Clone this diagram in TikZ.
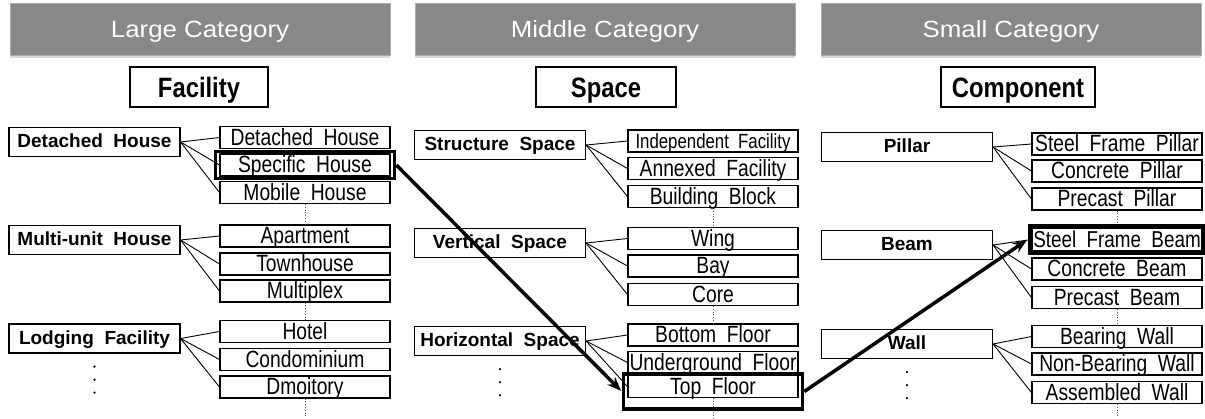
\documentclass[tikz,border=0pt]{standalone}
\usepackage{fontspec}
\setmainfont{Liberation Sans}
\newfontfamily\childfont{Liberation Sans}[FakeStretch=0.82]
\newfontfamily\parentfont{Liberation Sans}[WordSpace=2]
\newfontfamily\titlefont{Liberation Sans}[FakeStretch=0.85]
\newfontfamily\headfont{Liberation Sans}[FakeStretch=1.1]
\usepackage{tikz}
\usetikzlibrary{arrows.meta,fit,shadows}
\definecolor{bargray}{RGB}{136,136,136}
% wide word gaps in the list boxes
\newcommand\childsize[1]{\childfont\fontsize{#1}{#1}\selectfont\spaceskip=.45em plus .1em\relax}
\tikzstyle{header}=[
  fill=bargray,
  draw=bargray!70,
  minimum width=380pt,
  minimum height=52pt,
  text=white,
  text height=17pt,
  text depth=0pt,
  font=\headfont\fontsize{23.5}{24}\selectfont,
  drop shadow={shadow xshift=0pt,shadow yshift=-2.5pt,opacity=.3},
]
\tikzstyle{title}=[
  draw,
  line width=1.3pt,
  minimum height=40pt,
  text height=20pt,
  text depth=0pt,
  font=\titlefont\bfseries\fontsize{28}{28}\selectfont,
]
\tikzset{
  parent/.style={draw,line width=1.2pt,minimum width=171pt,minimum height=29pt,
    inner sep=0pt,text height=14pt,text depth=2.5pt,
    font=\parentfont\bfseries\fontsize{19}{19}\selectfont},
  child/.style={draw,line width=1.1pt,minimum width=170pt,minimum height=22pt,
    inner sep=0pt,text height=18.5pt,text depth=3.5pt,font=\childsize{23.5}},
  hilite/.style={draw,line width=3.5pt,inner sep=2pt},
  jump/.style={->,line width=3.5pt,shorten >=1pt},
  >={Stealth[length=14pt,width=11pt]},
}

\begin{document}
\begin{tikzpicture}[x=1pt,y=-1pt]
  \useasboundingbox (0,0) rectangle (1205,418);

  % column heads
  \node[header] (hlarge) at (200,29) {Large Category};
  \node[header] (hmiddle) at (605,29) {Middle Category};
  \node[header] (hsmall) at (1011,29) {Small Category};
  \node[title,minimum width=138pt] (facility) at (199,87) {Facility};
  \node[title,minimum width=140pt] (space) at (606,87) {Space};
  \node[title,minimum width=154pt] (component) at (1018,87) {Component};

  % facility
  \node[parent] (dh) at (94.5,142) {Detached House};
  \node[parent] (mu) at (94.5,240) {Multi-unit House};
  \node[parent] (lf) at (94.5,338.5) {Lodging Facility};
  \node[child] (dh1) at (305,137.5) {Detached House};
  \node[child] (dh2) at (305,165) {Specific House};
  \node[child] (dh3) at (305,192.5) {Mobile House};
  \node[child] (mu1) at (305,236) {Apartment};
  \node[child] (mu2) at (305,264) {Townhouse};
  \node[child] (mu3) at (305,291) {Multiplex};
  \node[child] (lf1) at (305,331.5) {Hotel};
  \node[child] (lf2) at (305,359.5) {Condominium};
  \node[child] (lf3) at (305,387) {Dmoitory};

  % space
  \node[parent] (ss) at (500,145) {Structure Space};
  \node[parent] (vs) at (500,243) {Vertical Space};
  \node[parent] (hs) at (500,341) {Horizontal Space};
  \node[child,font=\childsize{20.5}] (ss1) at (713,141) {Independent Facility};
  \node[child] (ss2) at (713,168.5) {Annexed Facility};
  \node[child] (ss3) at (713,196.5) {Building Block};
  \node[child] (vs1) at (713,238.5) {Wing};
  \node[child] (vs2) at (713,266) {Bay};
  \node[child] (vs3) at (713,294.5) {Core};
  \node[child] (hs1) at (713,335) {Bottom Floor};
  \node[child] (hs2) at (713,362.5) {Underground Floor};
  \node[child] (hs3) at (713,386.5) {Top Floor};

  % component
  \node[parent] (pl) at (907,147) {Pillar};
  \node[parent] (bm) at (907,245) {Beam};
  \node[parent] (wl) at (907,344) {Wall};
  \node[child] (pl1) at (1117,144) {Steel Frame Pillar};
  \node[child] (pl2) at (1117,171) {Concrete Pillar};
  \node[child] (pl3) at (1117,199) {Precast Pillar};
  \node[child,font=\childsize{23}] (bm1) at (1117,239.5) {Steel Frame Beam};
  \node[child] (bm2) at (1117,269) {Concrete Beam};
  \node[child] (bm3) at (1117,297.5) {Precast Beam};
  \node[child] (wl1) at (1117,336.5) {Bearing Wall};
  \node[child] (wl2) at (1117,364) {Non-Bearing Wall};
  \node[child] (wl3) at (1117,392.5) {Assembled Wall};

  \foreach \p in {dh,mu,lf,ss,vs,hs,pl,bm,wl}
    \foreach \i in {1,2,3}
      \draw[line width=.9pt] (\p.east) -- (\p\i.west);

  % the lists go on below
  \coordinate (lfend) at (305,418);
  \coordinate (hsend) at (713,418);
  \coordinate (wlend) at (1117,418);
  \foreach \a/\b in {dh3/mu1,mu3/lf1,lf3/lfend,ss3/vs1,vs3/hs1,hs3/hsend,
                     pl3/bm1,bm3/wl1,wl3/wlend}
    \draw[dotted,line width=.8pt,black!70] (\a.south) -- (\b);
  \foreach \p in {lf,hs,wl}
    \foreach \k in {13,26,39}
      \fill ([yshift=-\k pt]\p.south) circle (1.3pt);

  % selected path
  \node[hilite,fit=(dh2),inner xsep=4pt] (selfac) {};
  \node[hilite,fit=(hs3),inner xsep=4pt,inner ysep=6pt,yshift=-5pt] (selspace) {};
  \node[hilite,fit=(bm1)] (selcomp) {};
  \draw[jump] (selfac.east) -- (selspace.west);
  \draw[jump] (selspace.east) -- (selcomp.west);
\end{tikzpicture}
\end{document}
